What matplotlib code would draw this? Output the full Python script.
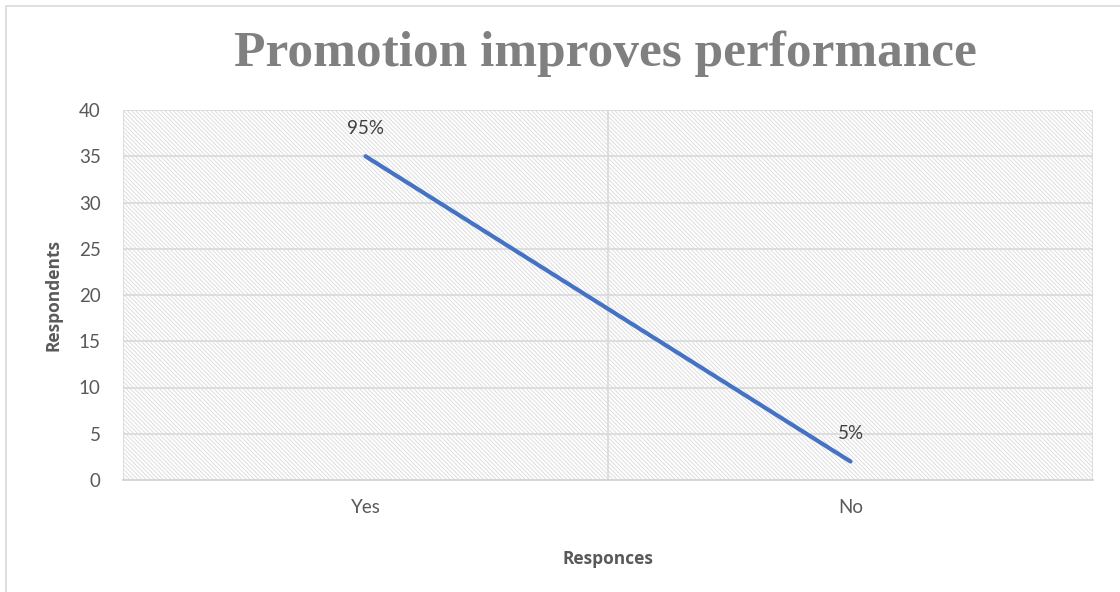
import matplotlib.pyplot as plt
from matplotlib.patches import Rectangle

# Survey results
categories = ['Yes', 'No']
respondents = [35, 2]
shares = ['95%', '5%']
yticks = [0, 5, 10, 15, 20, 25, 30, 35, 40]

plt.rcParams['hatch.linewidth'] = 0.7

fig = plt.figure(figsize=(11.2, 5.92), dpi=100)
fig.patch.set_facecolor('white')

# light chart border
fig.add_artist(Rectangle((6 / 1120, -0.1), 1.2, 1 - 6 / 592 + 0.1, transform=fig.transFigure,
                         fill=False, edgecolor='#d9d9d9', linewidth=1.2))

ax = fig.add_axes([123 / 1120, 1 - 480 / 592, (1093 - 123) / 1120, (480 - 110) / 592])
ax.set_facecolor('white')

# hatched plot area
ax.add_patch(Rectangle((0, 0), 1, 1, transform=ax.transAxes, facecolor='white',
                       edgecolor='#dedede', linewidth=0, hatch='\\' * 8, zorder=0))

x = list(range(len(categories)))
ax.set_xlim(-0.5, len(categories) - 0.5)
ax.set_ylim(0, 40)
ax.set_yticks(yticks)
ax.set_xticks(x)
ax.set_xticklabels(categories)

for y in yticks[1:]:
    ax.axhline(y, color='#d9d9d9', linewidth=1.2, zorder=1)
for xv in [-0.5, 0.5, 1.5]:
    ax.axvline(xv, color='#d9d9d9', linewidth=1.2, zorder=1)

ax.plot(x, respondents, color='#4472c4', linewidth=3, solid_capstyle='round', zorder=3)
for xi, yi, s in zip(x, respondents, shares):
    ax.annotate(s, (xi, yi), xytext=(0, 14), textcoords='offset points', ha='center',
                va='bottom', fontsize=13.5, color='#404040', family='Lato')

for side in ['top', 'right', 'left']:
    ax.spines[side].set_visible(False)
ax.spines['bottom'].set_color('#d0d0d0')
ax.spines['bottom'].set_linewidth(1.2)
ax.tick_params(length=0, labelsize=13.5, labelcolor='#595959')
ax.tick_params(axis='y', pad=16)
ax.tick_params(axis='x', pad=14)
for lab in ax.get_xticklabels() + ax.get_yticklabels():
    lab.set_family('Lato')

ax.set_xlabel('Responces', fontsize=12.5, fontweight='bold', color='#595959',
              family='Open Sans', labelpad=24)
ax.set_ylabel('Respondents', fontsize=12.5, fontweight='bold', color='#595959',
              family='Open Sans', labelpad=12)

fig.text(0.541, 1 - 54 / 592, 'Promotion improves performance', ha='center', va='center',
         fontsize=37, fontweight='bold', color='#808080', family='Liberation Serif')

fig.savefig('out.png', dpi=100)
